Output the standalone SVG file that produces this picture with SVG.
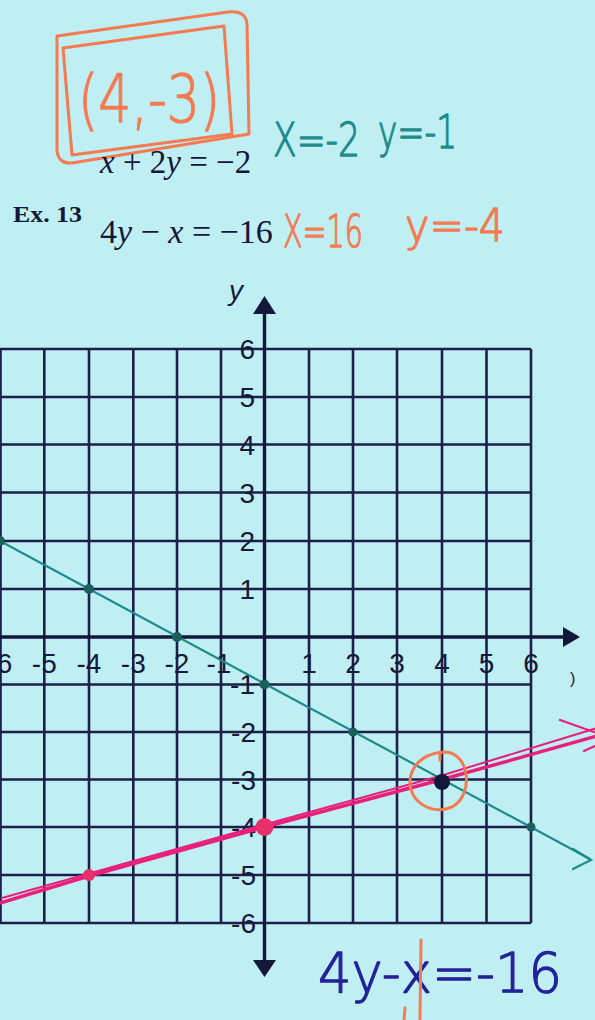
<svg xmlns="http://www.w3.org/2000/svg" width="595" height="1020" viewBox="0 0 595 1020">
<style>
.grid{stroke:#1c1f4a;stroke-width:2.6;fill:none}
.axis{stroke:#15173a;stroke-width:3.4;fill:none}
.lbl{font-family:"Liberation Sans",Arial,sans-serif;font-size:28px;fill:#17193c}
.print{font-family:"Liberation Serif","Times New Roman",serif;fill:#15173a}
.hand{font-family:"DejaVu Sans","Liberation Sans",sans-serif;font-weight:200;stroke-width:1.3;stroke-linejoin:round}
.teal{stroke:#1e8a8c;stroke-width:2.2;fill:none;stroke-linecap:round}
.pink{stroke:#e8207a;fill:none;stroke-linecap:round}
.orange{stroke:#f47a52;fill:none;stroke-width:3;stroke-linecap:round;stroke-linejoin:round}
</style>
<rect width="595" height="1020" fill="#bfeff2"/>

<g id="answer-box">
<path class="orange" d="M57,36 L228,12 Q246,10 247,24 L249,134 L72,163 Q58,164 57,150 Z"/>
<path class="orange" d="M63,48 L224,26 L232,134 L72,155 Z"/>
<text x="78" y="122" class="hand" font-size="66" fill="#f47a52" stroke="#f47a52" textLength="142" lengthAdjust="spacingAndGlyphs">(4,-3)</text>
</g>

<g id="equations">
<text class="print" x="100" y="173" font-size="33"><tspan font-style="italic">x</tspan> + 2<tspan font-style="italic">y</tspan> = −2</text>
<text class="print" x="13" y="222" font-size="24" font-weight="bold" textLength="69" lengthAdjust="spacingAndGlyphs">Ex. 13</text>
<text class="print" x="100" y="243" font-size="34">4<tspan font-style="italic">y</tspan> − <tspan font-style="italic">x</tspan> = −16</text>
</g>

<g id="teal-notes">
<text class="hand" x="273" y="156" font-size="46" fill="#1e8a8c" stroke="#1e8a8c" textLength="87" lengthAdjust="spacingAndGlyphs">X=-2</text>
<text class="hand" x="378" y="148" font-size="46" fill="#1e8a8c" stroke="#1e8a8c" textLength="79" lengthAdjust="spacingAndGlyphs">y=-1</text>
</g>

<g id="orange-notes">
<text class="hand" x="283" y="247" font-size="44" fill="#f47a52" stroke="#f47a52" textLength="80" lengthAdjust="spacingAndGlyphs">X=16</text>
<text class="hand" x="405" y="241" font-size="44" fill="#f47a52" stroke="#f47a52" textLength="100" lengthAdjust="spacingAndGlyphs">y=-4</text>
</g>

<g id="grid">
<path class="grid" d="M0,349H531M0,397H531M0,444.5H531M0,492.5H531M0,541H531M0,589H531M0,684.5H531M0,732H531M0,779.5H531M0,827H531M0,875H531M0,923H531"/>
<path class="grid" d="M0.5,349V923M44.3,349V923M89,349V923M133.3,349V923M177,349V923M221,349V923M309,349V923M353,349V923M397,349V923M442,349V923M486.5,349V923M531,349V923"/>
</g>

<g id="axes">
<path class="axis" d="M0,637H566M264.5,312V962"/>
<path d="M580,637L563,627L563,647Z" fill="#15173a"/>
<path d="M264.5,296L253,314L276,314Z" fill="#15173a"/>
<path d="M264.5,977L253,960L276,960Z" fill="#15173a"/>
<text x="229" y="300" font-family="Liberation Sans,Arial,sans-serif" font-style="italic" font-size="28" fill="#17193c">y</text>
<text x="570" y="684" font-family="Liberation Sans,Arial,sans-serif" font-size="16" fill="#17193c">)</text>
</g>

<g id="x-labels" class="lbl" text-anchor="middle">
<text x="0" y="673">-6</text>
<text x="44.3" y="673">-5</text>
<text x="89" y="673">-4</text>
<text x="133.3" y="673">-3</text>
<text x="177" y="673">-2</text>
<text x="219" y="673">-1</text>
<text x="309" y="673">1</text>
<text x="353" y="673">2</text>
<text x="397" y="673">3</text>
<text x="442" y="673">4</text>
<text x="486.5" y="673">5</text>
<text x="531" y="673">6</text>
</g>

<g id="y-labels" class="lbl" text-anchor="end">
<text x="255" y="359">6</text>
<text x="255" y="407">5</text>
<text x="255" y="455">4</text>
<text x="255" y="503">3</text>
<text x="255" y="551">2</text>
<text x="255" y="599">1</text>
<text x="255" y="694">-1</text>
<text x="256" y="742">-2</text>
<text x="256" y="790">-3</text>
<text x="256" y="837">-4</text>
<text x="256" y="885">-5</text>
<text x="256" y="933">-6</text>
</g>

<g id="connectors">
<path class="teal" d="M0,541L590,859"/>
<path class="teal" d="M573,849L591,860L573,869"/>
<path class="pink" stroke-width="3.4" d="M0,903L89,876L264.5,827L442,779.5L597,736"/>
<path class="pink" stroke-width="2" d="M2,898L130,862L270,823L440,776L597,728"/>
<path class="pink" stroke-width="2.2" d="M560,720L597,733"/>
<path class="pink" stroke-width="2.2" d="M584,751L597,745"/>
</g>

<g id="points">
<g fill="#1b5e5e">
<circle cx="0" cy="541" r="5"/>
<circle cx="89" cy="589" r="5"/>
<circle cx="177" cy="637" r="5"/>
<circle cx="264.5" cy="684.5" r="5"/>
<circle cx="353" cy="732" r="4.5"/>
<circle cx="531" cy="827" r="4.5"/>
</g>
<circle cx="264.5" cy="827" r="9" fill="#e8306a"/>
<circle cx="89" cy="875" r="6" fill="#e8306a"/>
<circle cx="442" cy="782" r="8" fill="#15173a"/>
<path class="orange" stroke-width="2.5" d="M446,752 C470,754 474,795 452,807 C430,816 408,800 410,780 C412,762 428,752 446,752"/>
<path class="orange" stroke-width="2" d="M440,752V760"/>
</g>

<g id="bottom-note">
<text class="hand" x="318" y="992" font-size="56" fill="#23229a" stroke="#23229a" textLength="244" lengthAdjust="spacingAndGlyphs">4y-x=-16</text>
<path class="orange" stroke-width="2.5" d="M421,940L420,1020"/>
<path class="orange" stroke-width="2.5" d="M405,1008L404,1020"/>
</g>
</svg>
